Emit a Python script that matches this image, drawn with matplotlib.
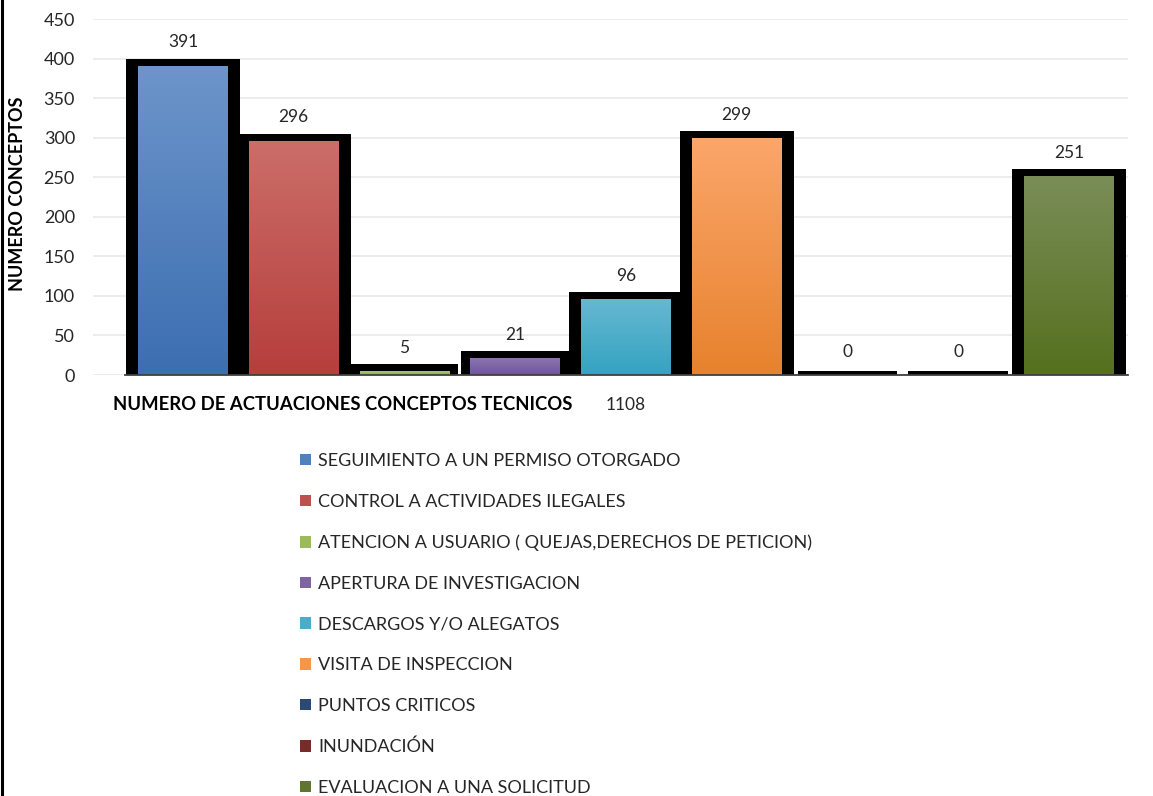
import numpy as np
import matplotlib
matplotlib.use("Agg")
import matplotlib.pyplot as plt
from matplotlib.patches import Patch
from matplotlib.colors import LinearSegmentedColormap
from matplotlib.lines import Line2D

plt.rcParams['font.family'] = ['Lato', 'DejaVu Sans']

# ---------------- data ----------------
categories = [
    "SEGUIMIENTO A UN PERMISO OTORGADO",
    "CONTROL A ACTIVIDADES ILEGALES",
    "ATENCION A USUARIO ( QUEJAS,DERECHOS DE PETICION)",
    "APERTURA DE INVESTIGACION",
    "DESCARGOS Y/O ALEGATOS",
    "VISITA DE INSPECCION",
    "PUNTOS CRITICOS",
    "INUNDACIÓN",
    "EVALUACION A UNA SOLICITUD",
]
values = [391, 296, 5, 21, 96, 299, 0, 0, 251]
group_label = "1108"
x_title = "NUMERO DE ACTUACIONES CONCEPTOS TECNICOS"
y_title = "NUMERO CONCEPTOS"
y_ticks = [0, 50, 100, 150, 200, 250, 300, 350, 400, 450]

# gradient colours (top, bottom) and legend colours
top_colors = ['#6D95CA', '#CB6E6A', '#AACB68', '#8C74B0', '#66B8D1', '#FBA66B', '#3A5F8E', '#8E3A37', '#7A8D58']
bottom_colors = ['#3C6EB1', '#B63E3B', '#8CAF45', '#6E559A', '#34A3C2', '#E7822D', '#1F497D', '#6B2725', '#55701E']
legend_colors = ['#4F81BD', '#C0504D', '#9BBB59', '#8064A2', '#4BACC6', '#F79646', '#2A4A73', '#772C2A', '#5F7530']

# ---------------- figure ----------------
W, H = 1153, 796
fig = plt.figure(figsize=(W / 100, H / 100), dpi=100)
ax = fig.add_axes([93 / W, 1 - 375 / H, (1128 - 93) / W, (375 - 19) / H])

x = np.arange(len(values))
vals = np.array(values, dtype=float)
bar_w = 0.81

# black "glow" behind the bars
px_per_unit = (375 - 19) / 450.0
px_per_x = 110.75
shadow_h = np.where(vals > 0, vals + 7 / px_per_unit, 4 / px_per_unit)
shadow_w = np.where(vals > 30, bar_w + 24 / px_per_x,
                    np.where(vals > 0, bar_w + 18 / px_per_x, bar_w + 10 / px_per_x))
ax.bar(x, shadow_h, width=shadow_w, color='black', zorder=2)

bars = ax.bar(x, vals, width=bar_w, color=legend_colors, zorder=3)

# gradient fill
grad = np.linspace(0, 1, 256).reshape(-1, 1)
for b, ct, cb in zip(bars, top_colors, bottom_colors):
    h = b.get_height()
    if h <= 0:
        b.set_visible(False)
        continue
    cmap = LinearSegmentedColormap.from_list('g', [cb, ct])
    im = ax.imshow(grad, cmap=cmap, aspect='auto', origin='lower',
                   extent=(b.get_x(), b.get_x() + b.get_width(), 0, h), zorder=3.5)
    im.set_clip_path(b)
ax.set_xlim(-0.8127, 8.533)
ax.set_ylim(0, 450)

# value labels
for xi, v in zip(x, values):
    ax.annotate(f"{v}", (xi, v), xytext=(0, 16.8), textcoords='offset points',
                ha='center', va='center', fontsize=12.5, color='#262626')

# axes styling
ax.set_yticks(y_ticks)
ax.tick_params(axis='y', length=0, pad=13, labelsize=13, labelcolor='#262626')
ax.set_xticks([4])
ax.set_xticklabels([group_label])
ax.tick_params(axis='x', length=0, pad=16, labelsize=12.5, labelcolor='#262626')
ax.grid(axis='y', color='#EBEBEB', linewidth=1.3, zorder=0)
ax.set_axisbelow(True)
for s in ax.spines.values():
    s.set_visible(False)
ax.axhline(0, xmin=(125 - 93) / (1128 - 93), xmax=1, color='#404040', linewidth=1.3,
           zorder=4, clip_on=False)

# titles
fig.text(18 / W, 1 - 194 / H, y_title, rotation=90, ha='center', va='center',
         fontsize=13, fontweight='bold', color='black')
fig.text(113 / W, 1 - 404 / H, x_title, ha='left', va='center',
         fontsize=13.3, fontweight='bold', color='black')

# legend
handles = [Patch(facecolor=c, edgecolor='none') for c in legend_colors]
fig.legend(handles, categories, loc='upper left', bbox_to_anchor=(300 / W, 1 - 453 / H),
           frameon=False, fontsize=13, handlelength=0.62, handleheight=0.62,
           handletextpad=0.4, labelspacing=1.37, borderpad=0, borderaxespad=0,
           labelcolor='#262626')

# left border line
fig.add_artist(Line2D([1.5 / W, 1.5 / W], [0, 1], color='black', linewidth=2.2,
                      transform=fig.transFigure))

fig.savefig('out.png', dpi=100)
